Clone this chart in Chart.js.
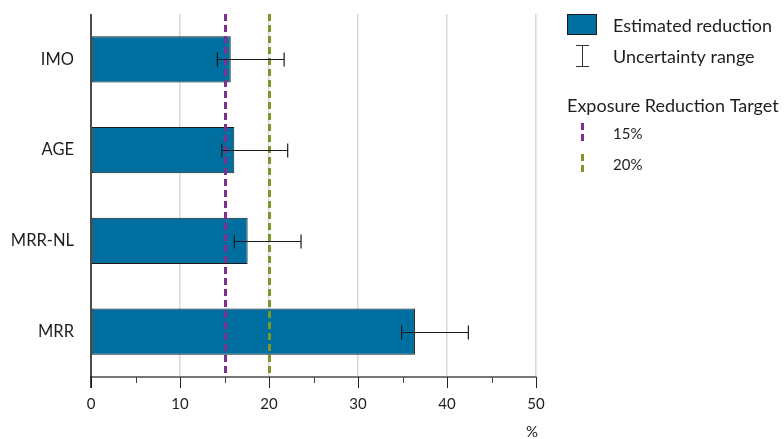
<!DOCTYPE html>
<html>
<head>
<meta charset="utf-8">
<script src="https://cdn.jsdelivr.net/npm/chart.js@4"></script>
<style>
  html, body { margin: 0; padding: 0; background: #ffffff; }
  #wrap { width: 784px; height: 439px; position: relative; }
</style>
</head>
<body>
<div id="wrap"><canvas id="chart" width="784" height="439"></canvas></div>
<script>
// Estimated exposure reduction per method, with uncertainty range
const categories = ['IMO', 'AGE', 'MRR-NL', 'MRR'];
const estimatedReduction = [15.7, 16.1, 17.6, 36.4];
const uncertaintyLow = [14.2, 14.7, 16.1, 34.9];
const uncertaintyHigh = [21.7, 22.1, 23.6, 42.4];

// Exposure reduction targets (vertical reference lines)
const targetLevels = [15, 20];
const targetLabels = ['15%', '20%'];
const targetColors = ['#7f2f8e', '#7a992a'];

const xMajorTicks = [0, 10, 20, 30, 40, 50];
const xMinorTicks = [5, 15, 25, 35, 45];
const axisUnit = '%';

const legendItems = ['Estimated reduction', 'Uncertainty range'];
const legendTargetTitle = 'Exposure Reduction Target';

const BAR_COLOR = '#006e9f';
const FONT = 'Lato, "Open Sans", sans-serif';
const TEXT = '#1e1e1e';

const overlay = {
  id: 'overlay',
  afterDatasetsDraw(chart) {
    const { ctx, chartArea: a, scales: { x, y } } = chart;
    ctx.save();

    // target lines
    targetLevels.forEach((v, i) => {
      const px = Math.round(x.getPixelForValue(v)) + 0.5;
      ctx.strokeStyle = targetColors[i];
      ctx.lineWidth = 3;
      ctx.setLineDash([7, 4]);
      ctx.beginPath();
      ctx.moveTo(px, a.top);
      ctx.lineTo(px, a.bottom);
      ctx.stroke();
    });
    ctx.setLineDash([]);

    // uncertainty ranges
    ctx.strokeStyle = '#1a1a1a';
    ctx.lineWidth = 1.2;
    categories.forEach((c, i) => {
      const py = Math.round(y.getPixelForValue(i)) + 0.5;
      const x0 = x.getPixelForValue(uncertaintyLow[i]);
      const x1 = x.getPixelForValue(uncertaintyHigh[i]);
      ctx.beginPath();
      ctx.moveTo(x0, py); ctx.lineTo(x1, py);
      ctx.moveTo(x0, py - 7); ctx.lineTo(x0, py + 7);
      ctx.moveTo(x1, py - 7); ctx.lineTo(x1, py + 7);
      ctx.stroke();
    });

    // x-axis tick marks
    ctx.lineWidth = 1;
    ctx.strokeStyle = '#222';
    xMajorTicks.forEach(v => {
      const px = Math.round(x.getPixelForValue(v)) + 0.5;
      ctx.beginPath(); ctx.moveTo(px, a.bottom); ctx.lineTo(px, a.bottom + 11); ctx.stroke();
    });
    ctx.strokeStyle = '#444';
    xMinorTicks.forEach(v => {
      const px = Math.round(x.getPixelForValue(v)) + 0.5;
      ctx.beginPath(); ctx.moveTo(px, a.bottom); ctx.lineTo(px, a.bottom + 6); ctx.stroke();
    });

    // axis unit
    ctx.fillStyle = TEXT;
    ctx.font = '15px ' + FONT;
    ctx.textAlign = 'center';
    ctx.textBaseline = 'middle';
    ctx.fillText(axisUnit, x.getPixelForValue(50) - 4, 432);

    // legend
    const lx = 567, tx = 613;
    ctx.font = '18px ' + FONT;
    ctx.textAlign = 'left';
    ctx.fillStyle = BAR_COLOR;
    ctx.fillRect(lx, 14, 30, 21);
    ctx.strokeStyle = '#1a1a1a';
    ctx.lineWidth = 1;
    ctx.strokeRect(lx + 0.5, 14.5, 29, 20);
    ctx.fillStyle = TEXT;
    ctx.fillText(legendItems[0], tx, 26);

    ctx.strokeStyle = '#333';
    ctx.beginPath();
    ctx.moveTo(582.5, 45); ctx.lineTo(582.5, 67);
    ctx.moveTo(576, 45.5); ctx.lineTo(589, 45.5);
    ctx.moveTo(576, 66.5); ctx.lineTo(589, 66.5);
    ctx.stroke();
    ctx.fillText(legendItems[1], tx, 57);

    ctx.fillText(legendTargetTitle, lx, 106);
    ctx.font = '15px ' + FONT;
    targetLabels.forEach((t, i) => {
      const cy = 134 + i * 31;
      ctx.strokeStyle = targetColors[i];
      ctx.lineWidth = 3;
      ctx.setLineDash([7, 4]);
      ctx.beginPath();
      ctx.moveTo(582.5, cy - 11); ctx.lineTo(582.5, cy + 11);
      ctx.stroke();
      ctx.setLineDash([]);
      ctx.fillText(t, tx, cy);
    });
    ctx.restore();
  },
  afterDraw(chart) {
    const { ctx, chartArea: a } = chart;
    ctx.save();
    ctx.strokeStyle = '#111';
    ctx.lineWidth = 1.5;
    ctx.beginPath();
    ctx.moveTo(a.left, a.top);
    ctx.lineTo(a.left, a.bottom + 11);
    ctx.stroke();
    ctx.restore();
  }
};

new Chart(document.getElementById('chart'), {
  type: 'bar',
  data: {
    labels: categories,
    datasets: [{
      label: legendItems[0],
      data: estimatedReduction,
      backgroundColor: BAR_COLOR,
      borderColor: '#1a1a1a',
      borderWidth: 1,
      borderSkipped: false,
      categoryPercentage: 1,
      barPercentage: 0.507
    }]
  },
  options: {
    indexAxis: 'y',
    responsive: false,
    devicePixelRatio: 1,
    animation: false,
    layout: { padding: { top: 14, right: 248, left: 0, bottom: 0 } },
    plugins: { legend: { display: false }, tooltip: { enabled: false } },
    scales: {
      x: {
        min: 0, max: 50,
        afterFit: s => { s.height = 62; s.paddingLeft = 0; s.paddingRight = 0; },
        ticks: {
          stepSize: 5,
          autoSkip: false,
          maxRotation: 0,
          padding: 18,
          color: TEXT,
          font: { family: FONT, size: 15 },
          callback: v => (v % 10 === 0 ? v : '')
        },
        grid: {
          drawTicks: false,
          color: ctx => (ctx.tick && ctx.tick.value % 10 === 0 && ctx.tick.value !== 0 ? '#d8d8d8' : 'rgba(0,0,0,0)'),
          lineWidth: 1.5
        },
        border: { color: '#777', width: 2 }
      },
      y: {
        afterFit: s => { s.width = 91; s.paddingTop = 0; s.paddingBottom = 0; },
        ticks: {
          padding: 17,
          color: TEXT,
          font: { family: FONT, size: 16.5 }
        },
        grid: { display: false, drawTicks: false },
        border: { display: false }
      }
    }
  },
  plugins: [overlay]
});
</script>
</body>
</html>
